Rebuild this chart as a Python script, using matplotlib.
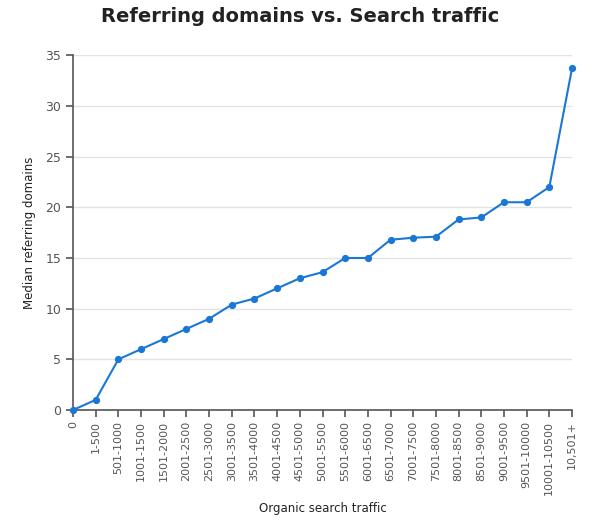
import matplotlib.pyplot as plt

# traffic buckets and median referring domains
categories = ["0", "1-500", "501-1000", "1001-1500", "1501-2000", "2001-2500",
              "2501-3000", "3001-3500", "3501-4000", "4001-4500", "4501-5000",
              "5001-5500", "5501-6000", "6001-6500", "6501-7000", "7001-7500",
              "7501-8000", "8001-8500", "8501-9000", "9001-9500", "9501-10000",
              "10001-10500", "10,501+"]
median_domains = [0, 1, 5, 6, 7, 8, 9, 10.4, 11, 12, 13, 13.6, 15, 15,
                  16.8, 17, 17.1, 18.8, 19, 20.5, 20.5, 22, 33.7]
y_ticks = [0, 5, 10, 15, 20, 25, 30, 35]

blue = "#1a78d4"
axis_grey = "#555555"

fig = plt.figure(figsize=(6, 5.25), dpi=100)
ax = fig.add_axes([73 / 600, 1 - 410 / 525, (572 - 73) / 600, (410 - 55.3) / 525])

x = list(range(len(categories)))
ax.plot(x, median_domains, color=blue, linewidth=1.5, marker="o",
        markersize=4.2, clip_on=False, zorder=3)

ax.set_xlim(0, len(categories) - 1)
ax.set_ylim(0, 35)
ax.set_xticks(x)
ax.set_xticklabels(categories, rotation=90)
ax.set_yticks(y_ticks)

ax.grid(axis="y", color="#e3e3e3", linewidth=1)
ax.set_axisbelow(True)
for side in ["top", "right"]:
    ax.spines[side].set_visible(False)
for side in ["left", "bottom"]:
    ax.spines[side].set_color(axis_grey)
    ax.spines[side].set_linewidth(1.2)

ax.tick_params(axis="both", colors=axis_grey, labelcolor="#555555",
               length=5, width=1.2, labelsize=9)
ax.tick_params(axis="x", labelsize=8, pad=3)

ax.set_xlabel("Organic search traffic", fontsize=8.5, color="#222222")
ax.set_ylabel("Median referring domains", fontsize=8.5, color="#222222")
ax.xaxis.set_label_coords(0.5, (410 - 502) / 354.7)
ax.yaxis.set_label_coords((36 - 73) / 499, 0.5)

fig.text(0.5, 1 - 17 / 525, "Referring domains vs. Search traffic", ha="center",
         va="center", fontsize=14, fontweight="bold", color="#222222")

fig.savefig("out.png", dpi=100)
